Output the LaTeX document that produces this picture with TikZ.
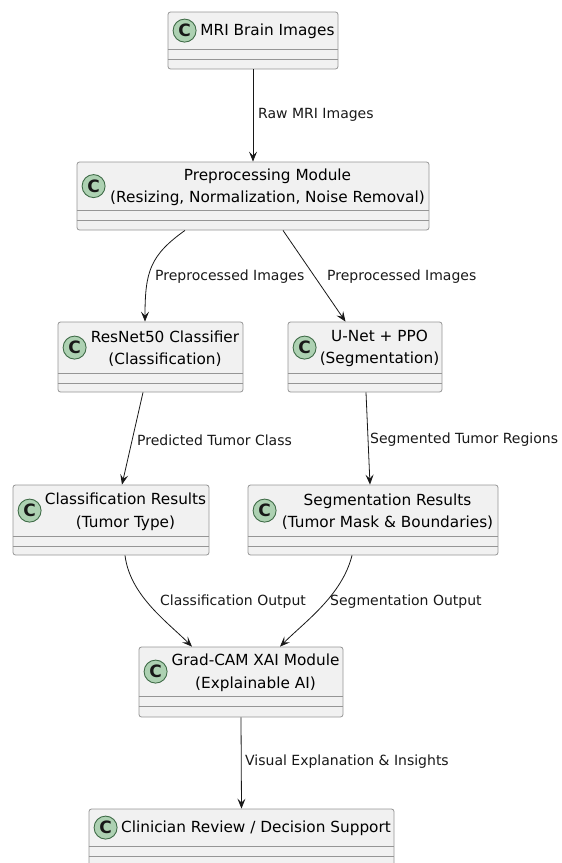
\documentclass[tikz,border=0pt]{standalone}
\usepackage{fontspec}
\setmainfont{DejaVu Sans}
\usetikzlibrary{arrows.meta}

\definecolor{boxfill}{HTML}{F1F1F1}
\definecolor{boxline}{HTML}{959595}
\definecolor{iconfill}{HTML}{ADD1B2}
\definecolor{iconline}{HTML}{3F6B47}
\definecolor{ink}{HTML}{181818}

\tikzset{
  classbox/.style={draw=boxline, fill=boxfill, rounded corners=2.5pt, line width=0.8pt, inner sep=0pt},
  classicon/.style={circle, draw=iconline, fill=iconfill, line width=0.9pt, minimum size=23pt, inner sep=0pt,
    text=ink, font=\fontsize{17}{17}\selectfont\bfseries},
  classname/.style={align=center, inner sep=0pt, text=black, font=\fontsize{15.3}{22.5}\selectfont},
  flow/.style={draw=ink, line width=0.8pt, -{Stealth[length=10pt,width=8pt,inset=4pt]}},
  flowlabel/.style={anchor=west, inner sep=0pt, text=ink, font=\fontsize{14}{16}\selectfont},
}

\begin{document}
\begin{tikzpicture}[x=1pt,y=-1pt]
\useasboundingbox (0,0) rectangle (562,863);

% class boxes
\path (253,40.5) node[classbox, minimum width=170pt, minimum height=57pt] (mri) {}
      (253,196) node[classbox, minimum width=352pt, minimum height=68pt] (prep) {}
      (150.5,357) node[classbox, minimum width=185pt, minimum height=70pt] (resnet) {}
      (365,357) node[classbox, minimum width=154pt, minimum height=70pt] (unet) {}
      (111,520) node[classbox, minimum width=196pt, minimum height=70pt] (clsres) {}
      (373,520) node[classbox, minimum width=250pt, minimum height=70pt] (segres) {}
      (241,682) node[classbox, minimum width=204pt, minimum height=70pt] (gradcam) {}
      (241.5,837.5) node[classbox, minimum width=305pt, minimum height=57pt] (clin) {}
      ;

% header, icon and the two empty compartments
\foreach \b/\h/\t in {mri/38pt/{MRI Brain Images},
    prep/49pt/{Preprocessing Module\\(Resizing, Normalization, Noise Removal)},
    resnet/52pt/{ResNet50 Classifier\\(Classification)},
    unet/52pt/{U-Net + PPO\\(Segmentation)},
    clsres/52pt/{Classification Results\\(Tumor Type)},
    segres/52pt/{Segmentation Results\\(Tumor Mask \& Boundaries)},
    gradcam/50pt/{Grad-CAM XAI Module\\(Explainable AI)},
    clin/38pt/{Clinician Review / Decision Support}} {
  \draw[boxline, line width=0.8pt] ([yshift=-\h]\b.north west) -- ([yshift=-\h]\b.north east);
  \draw[boxline, line width=0.8pt] ([yshift=-\h-9.5pt]\b.north west) -- ([yshift=-\h-9.5pt]\b.north east);
  \node[classicon] (\b-icon) at ([xshift=17pt, yshift=-\h/2]\b.north west) {C};
  \node[classname] (\b-name) at ([xshift=14.5pt, yshift=-\h/2-1pt]\b.north) {\t};
}

% connectors
\draw[flow] (mri.south) -- (prep.north);
\draw[flow] ([xshift=-68pt]prep.south) .. controls +(-35,25) and +(0,-50) .. ([xshift=-5.5pt]resnet.north);
\draw[flow] ([xshift=30pt]prep.south) -- ([xshift=-19.5pt]unet.north);
\draw[flow] ([xshift=-7.5pt]resnet.south) -- ([xshift=11pt]clsres.north);
\draw[flow] ([xshift=1pt]unet.south) -- ([xshift=-3pt]segres.north);
\draw[flow] ([xshift=14pt]clsres.south) .. controls +(5,40) and +(-25,-25) .. ([xshift=-49pt]gradcam.north);
\draw[flow] ([xshift=-21pt]segres.south) .. controls +(-10,40) and +(25,-25) .. ([xshift=39pt]gradcam.north);
\draw[flow] (gradcam.south) -- (clin.north);

% connector labels
\path (258,115) node[flowlabel] (rawlbl) {Raw MRI Images}
      (155,277) node[flowlabel] (prelbl1) {Preprocessed Images}
      (327,277) node[flowlabel] (prelbl2) {Preprocessed Images}
      (137,440) node[flowlabel] (predlbl) {Predicted Tumor Class}
      (370,440) node[flowlabel] (seglbl) {Segmented Tumor Regions}
      (160,602) node[flowlabel] (clsoutlbl) {Classification Output}
      (330,602) node[flowlabel] (segoutlbl) {Segmentation Output}
      (245,762) node[flowlabel] (vislbl) {Visual Explanation \& Insights}
      ;
\end{tikzpicture}
\end{document}
